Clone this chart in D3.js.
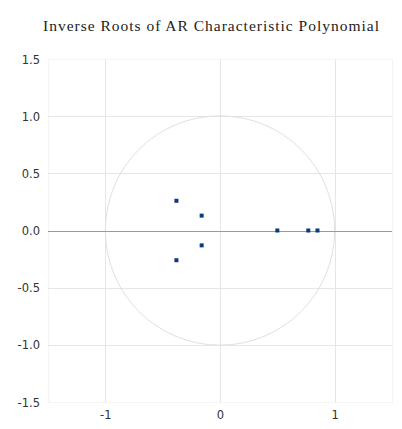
<!DOCTYPE html>
<html>
<head>
<meta charset="utf-8">
<script src="https://cdn.jsdelivr.net/npm/d3@7"></script>
<style>
  html, body { margin: 0; padding: 0; background: #fff; }
  svg { display: block; }
</style>
</head>
<body>
<svg id="chart" width="402" height="429"></svg>
<script>
// Inverse roots of the AR characteristic polynomial (real, imaginary)
const rootRe = [-0.38, -0.38, -0.16, -0.16, 0.50, 0.77, 0.85];
const rootIm = [0.26, -0.26, 0.13, -0.13, 0.0, 0.0, 0.0];
const xTicks = [-1, 0, 1];
const yTicks = [1.5, 1.0, 0.5, 0.0, -0.5, -1.0, -1.5];
const titleText = "Inverse Roots of AR Characteristic Polynomial";

const svg = d3.select("#chart");
const x = d3.scaleLinear().domain([-1.5, 1.5]).range([48, 392]);
const y = d3.scaleLinear().domain([-1.5, 1.5]).range([402, 59]);
const hyphenMinus = f => d => f(d).replace("\u2212", "-");

// faint plot frame
svg.append("rect")
  .attr("x", x(-1.5) + 0.5).attr("y", y(1.5) + 0.5)
  .attr("width", x(1.5) - x(-1.5)).attr("height", y(-1.5) - y(1.5))
  .attr("fill", "none").attr("stroke", "#f4f4f4").attr("stroke-width", 1);

// grid lines
svg.append("g").selectAll("line").data(yTicks.filter(d => d !== 0 && Math.abs(d) < 1.5))
  .join("line")
  .attr("x1", x(-1.5)).attr("x2", x(1.5))
  .attr("y1", d => Math.round(y(d)) + 0.5).attr("y2", d => Math.round(y(d)) + 0.5)
  .attr("stroke", "#e6e6e6").attr("stroke-width", 1);

svg.append("g").selectAll("line").data(xTicks)
  .join("line")
  .attr("x1", d => Math.round(x(d)) + 0.5).attr("x2", d => Math.round(x(d)) + 0.5)
  .attr("y1", y(1.5)).attr("y2", y(-1.5))
  .attr("stroke", "#e6e6e6").attr("stroke-width", 1);

// unit circle
const r = x(1) - x(0);
svg.append("circle")
  .attr("cx", x(0)).attr("cy", y(0)).attr("r", r)
  .attr("fill", "none").attr("stroke", "#e0e0e0").attr("stroke-width", 1);

// zero line
svg.append("line")
  .attr("x1", x(-1.5)).attr("x2", x(1.5))
  .attr("y1", Math.round(y(0)) + 0.5).attr("y2", Math.round(y(0)) + 0.5)
  .attr("stroke", "#9a9a9a").attr("stroke-width", 1.2);

// axis labels
const yAxis = d3.axisLeft(y).tickValues(yTicks).tickSize(0).tickPadding(0)
  .tickFormat(hyphenMinus(d3.format(".1f")));
const gy = svg.append("g").attr("transform", "translate(40,0)").call(yAxis);
gy.select(".domain").remove();
gy.selectAll("text")
  .attr("font-family", "'DejaVu Sans', sans-serif").attr("font-size", 11.5)
  .attr("fill", "#333").attr("dy", "0.36em");

const xAxis = d3.axisBottom(x).tickValues(xTicks).tickSize(0).tickPadding(0)
  .tickFormat(hyphenMinus(d3.format("d")));
const gx = svg.append("g").attr("transform", "translate(0,411)").call(xAxis);
gx.select(".domain").remove();
gx.selectAll("text")
  .attr("font-family", "'DejaVu Sans', sans-serif").attr("font-size", 11.5)
  .attr("fill", "#333");

// roots
const roots = rootRe.map((re, i) => ({ re, im: rootIm[i] }));
svg.append("g").selectAll("rect").data(roots)
  .join("rect")
  .attr("x", d => x(d.re) - 2).attr("y", d => y(d.im) - 2)
  .attr("width", 4).attr("height", 4)
  .attr("fill", "#0d3a7c");

// title
svg.append("text")
  .attr("x", 43).attr("y", 31)
  .attr("textLength", 336).attr("lengthAdjust", "spacing")
  .attr("font-family", "'Liberation Serif', 'Times New Roman', serif")
  .attr("font-size", 15.5)
  .attr("fill", "#222")
  .text(titleText);
</script>
</body>
</html>
